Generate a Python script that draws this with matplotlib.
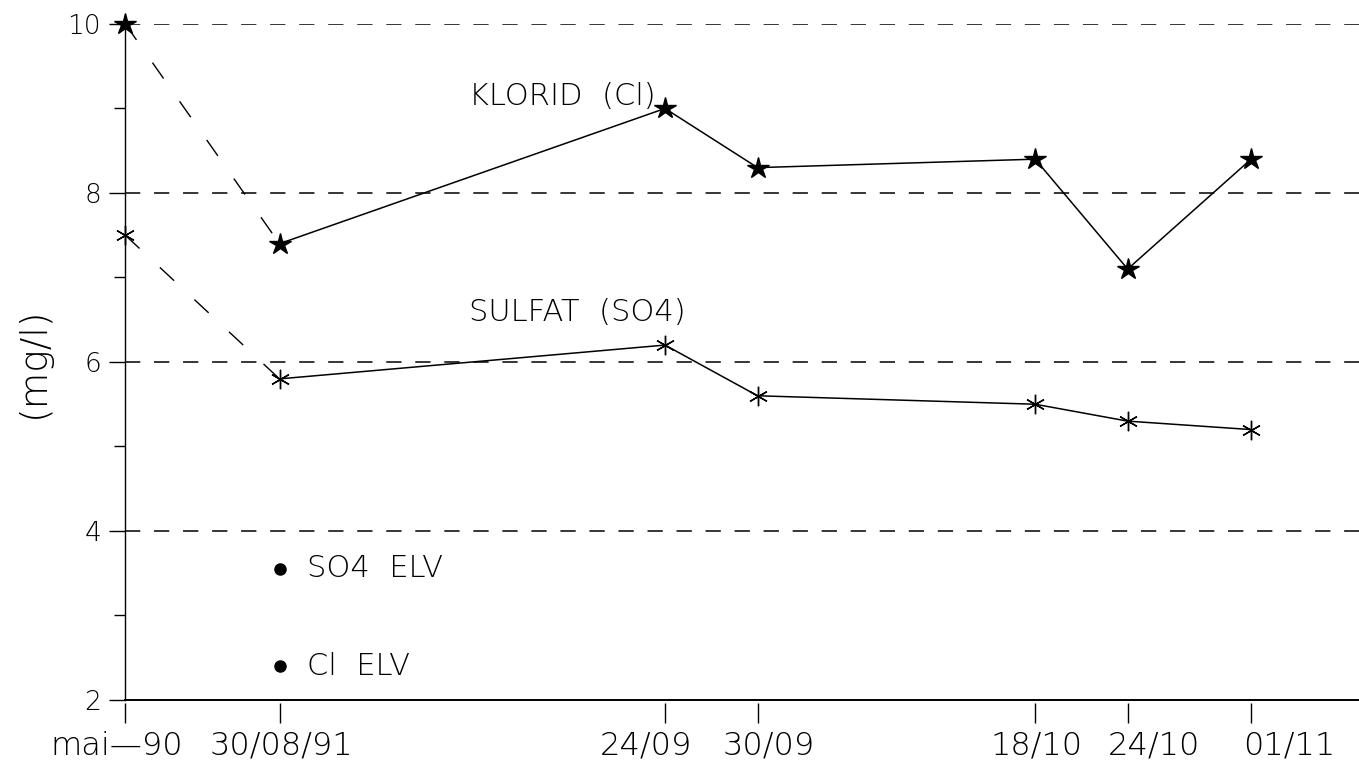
import matplotlib.pyplot as plt
from matplotlib.transforms import blended_transform_factory, ScaledTranslation

# sampling dates; x = days after 30/08/91 (mai-90 put before the break)
dates = ['mai\u201490', '30/08/91', '24/09', '30/09', '18/10', '24/10', '01/11']
days = [-10, 0, 25, 31, 49, 55, 63]

klorid = [10.0, 7.4, 9.0, 8.3, 8.4, 7.1, 8.4]
sulfat = [7.5, 5.8, 6.2, 5.6, 5.5, 5.3, 5.2]

elv_names = ['SO4  ELV', 'Cl  ELV']
elv_values = [3.55, 2.4]

plt.rcParams['font.family'] = 'DejaVu Sans'
plt.rcParams['font.weight'] = 'light'
plt.rcParams['axes.labelweight'] = 'light'

fig = plt.figure(figsize=(13.59, 7.66), dpi=100)
ax = fig.add_axes([0.0922, 0.0862, 0.9078, 0.8825])

# dashed link from the old value to the new series, solid afterwards
ax.plot(days[:2], klorid[:2], color='black', lw=1.0, dashes=(14, 20))
ax.plot(days[:2], sulfat[:2], color='black', lw=1.0, dashes=(14, 20))
ax.plot(days[1:], klorid[1:], color='black', lw=1.1)
ax.plot(days[1:], sulfat[1:], color='black', lw=1.1)
ax.plot(days, klorid, ls='none', marker='*', ms=16, color='black', clip_on=False, zorder=5)
ax.plot(days, sulfat, ls='none', marker=(6, 2, 0), ms=14, mew=1.0, color='black', clip_on=False, zorder=5)

# ELV dots
ax.plot([days[1]] * len(elv_values), elv_values, ls='none', marker='o', ms=8, color='black')
for name, v in zip(elv_names, elv_values):
    ax.annotate(name, (days[1], v), xytext=(20, 0), textcoords='offset points',
                va='center', ha='left', fontsize=22)

ax.text(12.3, 9.14, 'KLORID  (Cl)', fontsize=22, va='center', ha='left')
ax.text(12.3, 6.59, 'SULFAT  (SO4)', fontsize=22, va='center', ha='left')

ax.set_xlim(-10, 70)
ax.set_ylim(2, 10)

ax.set_yticks([2, 4, 6, 8, 10])
ax.set_yticks([3, 5, 7, 9], minor=True)
ax.tick_params(axis='y', which='major', length=11.5, width=1.0, pad=6, labelsize=19)
ax.tick_params(axis='y', which='minor', length=8, width=1.0)
for v in [4, 6, 8, 10]:
    ax.axhline(v, color='black', lw=1.1, dashes=(10, 9), zorder=1)

ax.set_xticks(days)
ax.set_xticklabels(dates, fontsize=23)
ax.tick_params(axis='x', length=0, pad=22)
# the labels in the original sit a little off their ticks
shifts = [-9, 2, -19, 11, 1, 26, 38]
for lab, dx in zip(ax.get_xticklabels(), shifts):
    lab.set_transform(lab.get_transform() + ScaledTranslation(dx / 100, 0, fig.dpi_scale_trans))
trans = blended_transform_factory(ax.transData, ax.transAxes)
ax.vlines(days, -0.005, -0.034, transform=trans, color='black', lw=1.0, clip_on=False)

ax.spines['top'].set_visible(False)
ax.spines['right'].set_visible(False)
ax.spines['left'].set_linewidth(1.0)
ax.spines['bottom'].set_linewidth(1.4)

ax.set_ylabel('(mg/l)', fontsize=27, labelpad=12, fontweight='light')

fig.savefig('out.png', dpi=100)
